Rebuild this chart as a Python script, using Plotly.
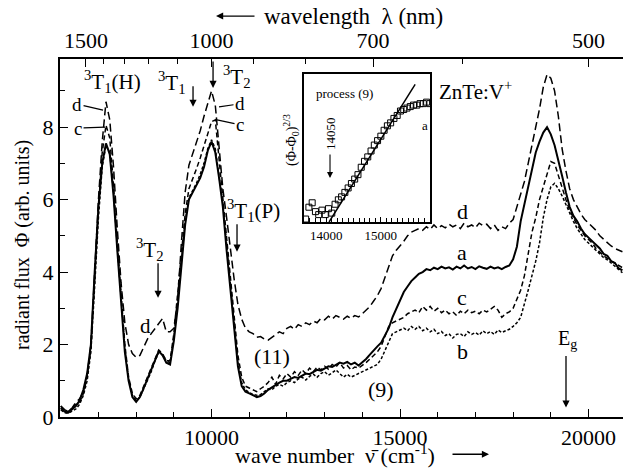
import plotly.graph_objects as go

# ---------------- data ----------------
wavenumber = list(range(6000, 21000, 100))  # cm^-1 sample positions

flux_a = [
    0.25, 0.15, 0.12, 0.20, 0.30, 0.45, 0.75, 1.20, 2.00, 4.00,
    5.80, 7.00, 7.55, 7.25, 6.10, 4.60, 3.10, 1.80, 1.00, 0.55,
    0.42, 0.55, 0.80, 1.05, 1.30, 1.60, 1.82, 1.70, 1.50, 1.45,
    2.10, 3.00, 4.20, 5.30, 6.00, 6.20, 6.40, 6.60, 6.90, 7.35,
    7.60, 7.30, 6.60, 5.80, 4.60, 3.50, 2.40, 1.40, 0.85, 0.70,
    0.65, 0.60, 0.55, 0.58, 0.65, 0.75, 0.82, 0.90, 0.95, 1.00,
    1.00, 1.05, 1.10, 1.08, 1.15, 1.20, 1.18, 1.25, 1.30, 1.28,
    1.35, 1.40, 1.38, 1.45, 1.50, 1.47, 1.52, 1.45, 1.50, 1.42,
    1.50, 1.60, 1.72, 1.85, 1.95, 2.05, 2.25, 2.45, 2.75, 3.00,
    3.25, 3.45, 3.60, 3.75, 3.85, 3.95, 4.00, 4.08, 4.05, 4.12,
    4.08, 4.15, 4.10, 4.13, 4.07, 4.15, 4.10, 4.18, 4.10, 4.14,
    4.08, 4.16, 4.12, 4.09, 4.15, 4.10, 4.13, 4.08, 4.14, 4.18,
    4.35, 4.70, 5.40, 5.90, 6.30, 6.80, 7.30, 7.60, 7.85, 8.00,
    7.80, 7.50, 7.10, 6.65, 6.20, 5.80, 5.55, 5.40, 5.20, 5.05,
    4.95, 4.85, 4.75, 4.65, 4.50, 4.45, 4.30, 4.25, 4.10, 4.05,
]

flux_b = [
    0.20, 0.12, 0.10, 0.15, 0.22, 0.35, 0.60, 1.00, 1.80, 3.60,
    5.50, 6.90, 7.50, 7.30, 6.20, 4.70, 3.20, 1.90, 1.05, 0.60,
    0.45, 0.55, 0.78, 1.00, 1.25, 1.55, 1.78, 1.72, 1.55, 1.50,
    2.20, 3.20, 4.40, 5.40, 6.05, 6.25, 6.45, 6.70, 7.00, 7.40,
    7.65, 7.40, 6.70, 5.90, 4.75, 3.60, 2.50, 1.50, 0.95, 0.75,
    0.68, 0.62, 0.60, 0.62, 0.70, 0.78, 0.75, 0.85, 0.90, 0.85,
    0.95, 1.00, 0.95, 1.05, 1.10, 1.02, 1.12, 1.18, 1.10, 1.20,
    1.25, 1.15, 1.22, 1.30, 1.20, 1.10, 1.18, 1.10, 1.15, 1.20,
    1.25, 1.30, 1.35, 1.40, 1.45, 1.60, 1.85, 2.10, 2.30, 2.35,
    2.40, 2.45, 2.38, 2.50, 2.42, 2.50, 2.38, 2.45, 2.35, 2.42,
    2.30, 2.36, 2.25, 2.30, 2.18, 2.28, 2.30, 2.22, 2.35, 2.28,
    2.33, 2.26, 2.38, 2.30, 2.36, 2.28, 2.40, 2.33, 2.38, 2.42,
    2.50, 2.60, 2.75, 3.10, 3.50, 3.90, 4.30, 4.80, 5.50, 6.00,
    6.35, 6.45, 6.30, 6.10, 5.85, 5.60, 5.40, 5.20, 5.05, 4.90,
    4.80, 4.70, 4.60, 4.50, 4.40, 4.34, 4.25, 4.15, 4.05, 3.98,
]

flux_c = [
    0.30, 0.20, 0.15, 0.25, 0.35, 0.40, 0.65, 1.10, 1.90, 3.80,
    5.80, 7.30, 8.05, 7.70, 6.40, 4.80, 3.30, 2.00, 1.10, 0.65,
    0.50, 0.60, 0.85, 1.10, 1.35, 1.60, 1.85, 1.75, 1.55, 1.55,
    2.30, 3.40, 4.60, 5.60, 6.30, 6.55, 6.85, 7.15, 7.50, 7.85,
    8.15, 8.20, 7.10, 6.10, 5.00, 3.80, 2.70, 1.70, 1.10, 0.85,
    0.80, 0.75, 0.70, 0.78, 0.85, 0.95, 1.10, 0.90, 1.15, 1.05,
    1.20, 1.10, 1.25, 1.15, 1.30, 1.20, 1.35, 1.25, 1.38, 1.30,
    1.40, 1.32, 1.45, 1.38, 1.50, 1.35, 1.42, 1.30, 1.38, 1.35,
    1.42, 1.50, 1.60, 1.70, 1.80, 1.95, 2.20, 2.50, 2.60, 2.65,
    2.70, 2.75, 2.85, 2.90, 2.95, 2.88, 3.05, 2.95, 3.05, 2.92,
    3.00, 2.88, 2.95, 2.85, 2.90, 2.80, 2.92, 2.85, 2.95, 2.88,
    2.92, 2.85, 2.95, 2.90, 2.98, 3.05, 2.95, 2.75, 2.85, 2.90,
    3.00, 3.25, 3.50, 3.90, 4.50, 5.10, 5.50, 6.00, 6.35, 6.70,
    7.05, 7.00, 6.65, 6.30, 6.00, 5.70, 5.50, 5.30, 5.15, 5.00,
    4.90, 4.80, 4.65, 4.55, 4.45, 4.38, 4.30, 4.25, 4.18, 4.12,
]

flux_d = [
    0.30, 0.20, 0.15, 0.25, 0.40, 0.50, 0.70, 1.15, 2.00, 4.00,
    6.00, 7.60, 8.70, 8.20, 6.90, 5.20, 3.70, 2.60, 2.00, 1.75,
    1.65, 1.70, 1.95, 2.15, 2.30, 2.45, 2.60, 2.72, 2.35, 2.35,
    2.45, 3.20, 4.80, 6.20, 6.95, 7.25, 7.55, 7.90, 8.30, 8.65,
    9.00, 8.60, 7.50, 6.30, 5.50, 4.60, 3.80, 3.10, 2.70, 2.45,
    2.35, 2.30, 2.20, 2.22, 2.15, 2.12, 2.20, 2.28, 2.35, 2.30,
    2.45, 2.50, 2.42, 2.55, 2.50, 2.60, 2.55, 2.65, 2.60, 2.72,
    2.68, 2.78, 2.70, 2.80, 2.75, 2.70, 2.78, 2.72, 2.80, 2.76,
    2.85, 2.95, 3.05, 3.20, 3.35, 3.55, 3.85, 4.20, 4.45, 4.60,
    4.72, 4.85, 5.00, 5.10, 5.15, 5.20, 5.15, 5.25, 5.18, 5.30,
    5.20, 5.28, 5.22, 5.32, 5.25, 5.30, 5.20, 5.35, 5.25, 5.30,
    5.22, 5.35, 5.28, 5.32, 5.20, 5.30, 5.15, 5.25, 5.20, 5.35,
    5.45, 5.80, 6.10, 6.50, 7.00, 7.50, 7.95, 8.50, 9.10, 9.45,
    9.35, 9.00, 8.30, 7.40, 6.80, 6.30, 6.00, 5.80, 5.60, 5.45,
    5.35, 5.25, 5.15, 5.00, 4.90, 4.80, 4.72, 4.65, 4.60, 4.56,
]

# inset: (Phi - Phi0)^(2/3) of curve a vs wave number
inset_x = [13620, 13680, 13740, 13800, 13860, 13920, 13980, 14040, 14100, 14160,
           14220, 14280, 14340, 14400, 14460, 14520, 14580, 14640, 14700, 14760,
           14820, 14880, 14940, 15000, 15060, 15120, 15180, 15240, 15300, 15360,
           15420, 15480, 15540, 15600, 15660, 15720, 15780, 15840, 15900]
inset_y = [0.02, 0.10, 0.13, 0.07, 0.05, 0.08, 0.05, 0.09, 0.06, 0.12,
           0.15, 0.17, 0.20, 0.23, 0.26, 0.29, 0.32, 0.37, 0.41, 0.44,
           0.48, 0.52, 0.55, 0.58, 0.62, 0.65, 0.67, 0.70, 0.72, 0.75,
           0.76, 0.77, 0.78, 0.79, 0.79, 0.80, 0.80, 0.81, 0.80]
fit_x = [14050, 15630]
fit_y = [0.0, 0.93]
inset_ticks = [14000, 15000]

# top-axis wavelengths (nm)
wavelength_labels = [1500, 1000, 700, 500]
wavelength_minor = [1400, 1300, 1200, 1100, 900, 800, 600]

FONT = "Liberation Serif, Times New Roman, Times, serif"
X_RANGE = [5980, 20915]
Y_RANGE = [0, 9.88]

fig = go.Figure()

styles = {
    "a": dict(color="black", width=2.0, dash="solid"),
    "b": dict(color="black", width=1.5, dash="3px,2px"),
    "c": dict(color="black", width=1.5, dash="5px,3px"),
    "d": dict(color="black", width=1.5, dash="8px,4px"),
}
for name, ys in (("d", flux_d), ("c", flux_c), ("b", flux_b), ("a", flux_a)):
    fig.add_trace(go.Scatter(x=wavenumber, y=ys, mode="lines", name=name,
                             line=styles[name], xaxis="x", yaxis="y",
                             showlegend=False, hoverinfo="skip"))

# invisible trace to activate the top axis
fig.add_trace(go.Scatter(x=[X_RANGE[0]], y=[0], mode="markers", marker=dict(opacity=0),
                         xaxis="x2", yaxis="y", showlegend=False, hoverinfo="skip"))

# inset
fig.add_trace(go.Scatter(x=inset_x, y=inset_y, mode="markers", xaxis="x3", yaxis="y3",
                         marker=dict(symbol="square-open", size=6, color="black",
                                     line=dict(width=1, color="black")),
                         showlegend=False, hoverinfo="skip"))
fig.add_trace(go.Scatter(x=fit_x, y=fit_y, mode="lines", xaxis="x3", yaxis="y3",
                         line=dict(color="black", width=1.5),
                         showlegend=False, hoverinfo="skip"))

tick_font = dict(family=FONT, size=22, color="black")

fig.update_layout(
    width=623, height=469,
    margin=dict(l=60, r=0, t=59, b=52),
    paper_bgcolor="white", plot_bgcolor="white",
    font=dict(family=FONT, color="black"),
    showlegend=False,
    xaxis=dict(range=X_RANGE, showline=True, linecolor="black", linewidth=2,
               ticks="inside", ticklen=8, tickwidth=1.2, tickcolor="black",
               tickmode="array", tickvals=[10000, 15000, 20000],
               ticktext=["10000", "15000", "20000"],
               minor=dict(ticks="inside", ticklen=5, dtick=1000, tick0=0,
                          tickcolor="black", tickwidth=1),
               showgrid=False, zeroline=False, tickfont=tick_font,
               anchor="y", domain=[0, 1]),
    xaxis2=dict(range=X_RANGE, overlaying="x", side="top", anchor="y",
                showline=True, linecolor="black", linewidth=2,
                ticks="inside", ticklen=8, tickwidth=1.2, tickcolor="black",
                tickmode="array",
                tickvals=[1e7 / w for w in wavelength_labels],
                ticktext=[str(w) for w in wavelength_labels],
                minor=dict(ticks="inside", ticklen=5, tickmode="array",
                           tickvals=[1e7 / w for w in wavelength_minor],
                           tickcolor="black", tickwidth=1),
                showgrid=False, zeroline=False, tickfont=tick_font),
    yaxis=dict(range=Y_RANGE, showline=True, linecolor="black", linewidth=2,
               ticks="inside", ticklen=8, tickwidth=1.2, tickcolor="black",
               dtick=2, tick0=0,
               minor=dict(ticks="inside", ticklen=5, dtick=1,
                          tickcolor="black", tickwidth=1),
               showgrid=False, zeroline=False, tickfont=tick_font,
               anchor="x", domain=[0, 1]),
    xaxis3=dict(domain=[0.4334, 0.657], anchor="y3", range=[13590, 15900],
                showline=True, mirror=True, linecolor="black", linewidth=2,
                ticks="inside", ticklen=5, tickwidth=1, tickcolor="black",
                tickmode="array", tickvals=inset_ticks,
                ticktext=[str(t) for t in inset_ticks],
                minor=dict(ticks="inside", ticklen=4, dtick=100, tick0=0,
                           tickcolor="black", tickwidth=1),
                showgrid=False, zeroline=False,
                tickfont=dict(family=FONT, size=13, color="black")),
    yaxis3=dict(domain=[0.5447, 0.958], anchor="x3", range=[0, 1],
                showline=True, mirror=True, linecolor="black", linewidth=2,
                ticks="", showticklabels=False, showgrid=False, zeroline=False),
)

ann = []


def txt(x, y, text, size=22, xref="x", yref="y", angle=0):
    ann.append(dict(x=x, y=y, xref=xref, yref=yref, text=text, showarrow=False,
                    font=dict(family=FONT, size=size, color="black"),
                    textangle=angle, xanchor="center", yanchor="middle"))


def arrow(x, y, ax, ay, xref="x", yref="y", head=2, width=1.3, size=1.1):
    ann.append(dict(x=x, y=y, xref=xref, yref=yref, text="", showarrow=True,
                    arrowhead=head, arrowsize=size, arrowwidth=width,
                    arrowcolor="black", ax=ax, ay=ay, standoff=0))


def leader(x, y, text, ax, ay, size=19):
    ann.append(dict(x=x, y=y, xref="x", yref="y", text=text, showarrow=True,
                    arrowhead=0, arrowwidth=1.2, arrowcolor="black",
                    ax=ax, ay=ay, standoff=0,
                    font=dict(family=FONT, size=size, color="black")))


# main-panel labels
txt(7361, 9.27, "<sup>3</sup>T<sub>1</sub>(H)", 21)
leader(7122, 8.47, "d", -26, -6)
leader(7175, 8.00, "c", -27, 1)
txt(8952, 9.24, "<sup>3</sup>T<sub>1</sub>", 21)
arrow(9509, 8.56, 0, -22)
arrow(10040, 9.08, 0, -28)
txt(10676, 9.41, "<sup>3</sup>T<sub>2</sub>", 21)
leader(10199, 8.56, "d", 21, -3)
leader(10146, 8.20, "c", 23, 5)
txt(11101, 5.71, "<sup>3</sup>T<sub>1</sub>(P)", 21)
arrow(10676, 4.56, 0, -29)
txt(8369, 4.62, "<sup>3</sup>T<sub>2</sub>", 21)
arrow(8581, 3.29, 0, -36)
txt(8236, 2.50, "d", 21)
txt(11605, 1.67, "(11)", 22)
txt(14496, 0.76, "(9)", 22)
txt(16989, 9.02, "ZnTe:V<sup>+</sup>", 21)
txt(16645, 5.66, "d", 22)
txt(16645, 4.53, "a", 22)
txt(16645, 3.29, "c", 22)
txt(16645, 1.81, "b", 22)
txt(19430, 2.14, "E<sub>g</sub>", 20)
arrow(19403, 0.26, 0, -53)

# inset labels (paper coordinates)
txt(0.5062, 0.905, "process (9)", 13, "paper", "paper")
txt(0.4796, 0.7905, "14050", 13, "paper", "paper", -90)
arrow(0.4796, 0.6676, 0, -25, "paper", "paper", width=1.1)
txt(0.6483, 0.8156, "a", 13, "paper", "paper")
txt(0.4103, 0.7737, "(Φ-Φ<sub>0</sub>)<sup>2/3</sup>", 14, "paper", "paper", -90)

# axis titles
txt(0.4885, -0.104, "wave number  \u03bd\u0304 (cm<sup>-1</sup>)", 22, "paper", "paper")
arrow(0.7620, -0.104, -38, 0, "paper", "paper", width=1.3)
txt(0.522, 1.120, "wavelength  λ (nm)", 23, "paper", "paper")
arrow(0.2771, 1.120, 40, 0, "paper", "paper", width=1.3)
txt(-0.0675, 0.4804, "radiant flux  Φ (arb. units)", 20, "paper", "paper", -90)

fig.update_layout(annotations=ann)

fig.write_html("out.html", config={"displayModeBar": False},
               post_script="document.body.style.margin='0';")
